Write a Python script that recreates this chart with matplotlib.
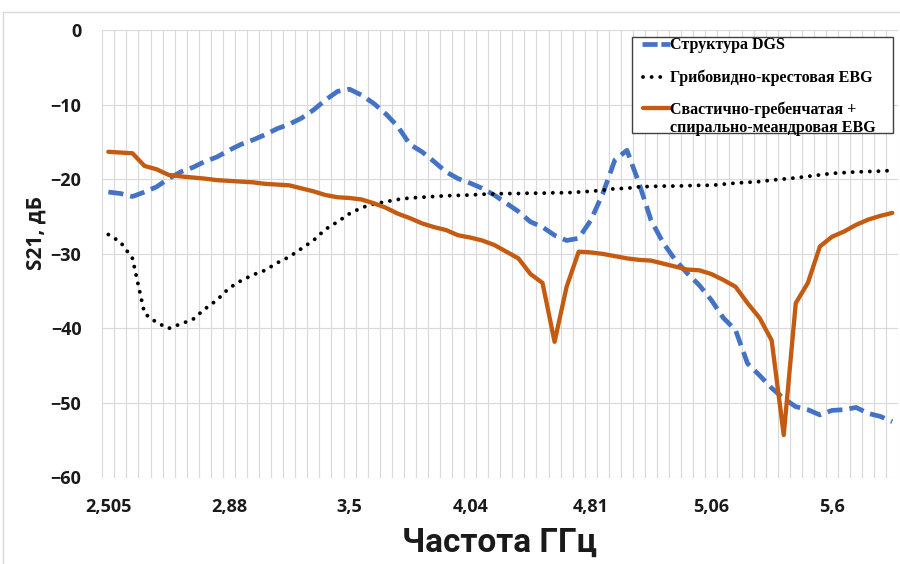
import numpy as np
import matplotlib
matplotlib.use("Agg")
import matplotlib.pyplot as plt
from matplotlib.lines import Line2D
from matplotlib.patches import Rectangle

# Frequency sweep points (category axis) and the labelled ones
n_points = 66
tick_positions = [0, 10, 20, 30, 40, 50, 60]
tick_labels = ["2,505", "2,88", "3,5", "4,04", "4,81", "5,06", "5,6"]

# S21, dB
s21_dgs = [-21.7, -21.9, -22.3, -21.7, -21.0, -19.9, -19.0, -18.4, -17.6, -17.0,
           -16.1, -15.3, -14.7, -14.0, -13.2, -12.6, -11.8, -10.7, -9.35, -8.2,
           -7.9, -8.7, -9.8, -11.2, -12.9, -15.3, -16.3, -17.6, -19.0, -19.9,
           -20.5, -21.2, -22.1, -23.2, -24.3, -25.7, -26.4, -27.5, -28.2, -27.9,
           -25.5, -21.9, -17.4, -16.1, -20.5, -25.5, -28.5, -30.8, -32.6, -34.2,
           -36.2, -38.6, -40.2, -44.7, -46.3, -48.0, -49.4, -50.5, -50.9, -51.6,
           -51.0, -50.9, -50.6, -51.4, -51.8, -52.5]

s21_mushroom = [-27.4, -28.4, -30.6, -38.0, -39.2, -40.0, -39.4, -38.8, -37.4, -36.2,
                -34.6, -33.6, -32.8, -32.2, -31.2, -30.4, -29.3, -28.2, -26.7, -25.7,
                -24.6, -23.8, -23.3, -23.0, -22.7, -22.5, -22.4, -22.3, -22.2, -22.15,
                -22.1, -22.0, -21.95, -21.9, -21.9, -21.85, -21.85, -21.8, -21.8, -21.7,
                -21.6, -21.45, -21.25, -21.2, -21.0, -20.95, -20.9, -20.9, -20.85, -20.8,
                -20.8, -20.65, -20.5, -20.4, -20.3, -20.1, -19.95, -19.8, -19.6, -19.4,
                -19.2, -19.1, -19.0, -18.95, -18.9, -18.8]

s21_swastika = [-16.3, -16.4, -16.5, -18.2, -18.65, -19.4, -19.6, -19.75, -19.9, -20.1,
                -20.2, -20.3, -20.4, -20.6, -20.7, -20.8, -21.2, -21.6, -22.1, -22.4,
                -22.5, -22.7, -23.2, -23.8, -24.6, -25.2, -25.9, -26.4, -26.8, -27.5,
                -27.8, -28.2, -28.8, -29.7, -30.6, -32.7, -33.9, -41.8, -34.4, -29.7,
                -29.8, -30.0, -30.3, -30.6, -30.8, -30.9, -31.3, -31.7, -32.1, -32.2,
                -32.7, -33.5, -34.4, -36.6, -38.6, -41.6, -54.3, -36.6, -33.9, -29.0,
                -27.7, -27.0, -26.1, -25.4, -24.9, -24.5]

series_names = ["Структура DGS",
                "Грибовидно-крестовая EBG",
                "Свастично-гребенчатая +\nспирально-меандровая EBG"]

BLUE = "#4472C4"
ORANGE = "#C55A11"
GRID = "#D9D9D9"
TEXT = "#1a1a1a"

DGS_LW, DGS_DASH = 3.4, (0, (3.2, 1.5))
DOT_LW, DOT_STYLE = 2.8, (0, (0.01, 2.2))
SOLID_LW = 3.1

W, H = 900, 564
fig = plt.figure(figsize=(W / 100, H / 100), dpi=100)


def fx(px):
    return px / W


def fy(py):
    return 1 - py / H


left, right, top, bottom = 102.3, 898.3, 30.3, 477.5
ax = fig.add_axes([fx(left), fy(bottom), fx(right - left), (bottom - top) / H])

x = np.arange(n_points)
ax.plot(x, s21_dgs, color=BLUE, lw=DGS_LW, linestyle=DGS_DASH,
        dash_capstyle="butt", dash_joinstyle="round", zorder=3)
ax.plot(x, s21_mushroom, color="black", lw=DOT_LW, linestyle=DOT_STYLE,
        dash_capstyle="round", zorder=3)
ax.plot(x, s21_swastika, color=ORANGE, lw=SOLID_LW, solid_joinstyle="round",
        solid_capstyle="round", zorder=3)

ax.set_xlim(-0.5, n_points - 0.5)
ax.set_ylim(-60, 0)
ax.set_yticks(np.arange(-60, 1, 10))
ax.set_xticks(tick_positions)
ax.set_xticklabels(tick_labels)
ax.set_xticks(np.arange(-0.5, n_points, 1.0), minor=True)

ax.grid(False)
ax.yaxis.grid(True, color=GRID, lw=0.8)
ax.xaxis.grid(True, which="minor", color=GRID, lw=0.8)
ax.set_axisbelow(True)
for s in ax.spines.values():
    s.set_visible(False)

sans = ["Open Sans", "DejaVu Sans"]
ax.tick_params(axis="both", which="both", length=0)
ax.tick_params(axis="y", pad=15)
ax.tick_params(axis="x", pad=15)
for lab in ax.get_xticklabels() + ax.get_yticklabels():
    lab.set_fontfamily(sans)
    lab.set_fontweight("bold")
    lab.set_fontsize(13)
    lab.set_color(TEXT)

ax.set_ylabel("S21, дБ", family=sans, weight="bold", size=15, color=TEXT)
ax.yaxis.set_label_coords((47 - left) / (right - left), (bottom - 233) / (bottom - top))
fig.text(fx(500), fy(543), "Частота ГГц", ha="center", va="center",
         family=["Roboto", "DejaVu Sans"], weight="bold", size=24, color=TEXT)

# Legend box drawn in figure pixels
fig.add_artist(Rectangle((fx(631.7), fy(133.3)), fx(892.7 - 631.7), (133.3 - 37.3) / H,
                         transform=fig.transFigure, facecolor="white",
                         edgecolor="#404040", lw=1.0, zorder=5))
legend_font = dict(family=["Liberation Serif", "DejaVu Serif"], weight="bold",
                   size=11.5, color="black")
fig.add_artist(Line2D([fx(641.7), fx(670)], [fy(44), fy(44)], color=BLUE, lw=DGS_LW,
                      linestyle=(0, (3.2, 0.8)), dash_capstyle="butt", zorder=6))
fig.add_artist(Line2D([fx(642.5), fx(664)], [fy(77.3), fy(77.3)], color="black", lw=DOT_LW,
                      linestyle=DOT_STYLE, dash_capstyle="round", zorder=6))
fig.add_artist(Line2D([fx(642.7), fx(670)], [fy(108.3), fy(108.3)], color=ORANGE,
                      lw=SOLID_LW, solid_capstyle="round", zorder=6))
first, second = series_names[2].split("\n")
for yy, txt in [(45, series_names[0]), (78, series_names[1]),
                (109.3, first), (128.3, second)]:
    fig.text(fx(670), fy(yy), txt, va="center", ha="left", zorder=7, **legend_font)

# Chart area outline
fig.add_artist(Line2D([fx(3), fx(3)], [fy(12), 0], color=GRID, lw=1.0))
fig.add_artist(Line2D([fx(3), 1], [fy(12), fy(12)], color=GRID, lw=1.0))

fig.savefig("out.png", dpi=100)
